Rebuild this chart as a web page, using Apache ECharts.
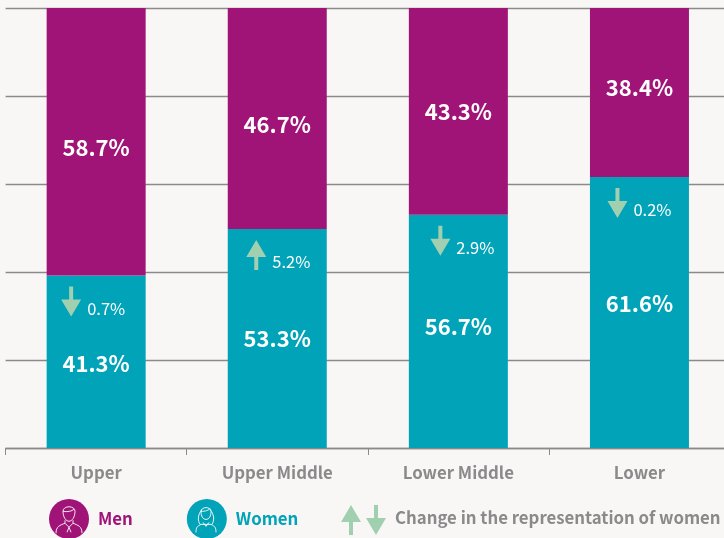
<!DOCTYPE html>
<html>
<head>
<meta charset="utf-8">
<style>
  html, body { margin: 0; padding: 0; background: #f8f7f5; }
  #chart { width: 724px; height: 538px; }
</style>
<script src="https://cdn.jsdelivr.net/npm/echarts@6/dist/echarts.min.js"></script>
</head>
<body>
<div id="chart"></div>
<script>
const categories = ["Upper", "Upper Middle", "Lower Middle", "Lower"];
// bar heights as drawn in the picture (they differ from the printed labels)
const womenHeights = [39.2, 49.8, 53.0, 61.6];
const menHeights = [60.8, 50.2, 47.0, 38.4];
const womenLabels = ["41.3%", "53.3%", "56.7%", "61.6%"];
const menLabels = ["58.7%", "46.7%", "43.3%", "38.4%"];
const changeLabels = ["0.7%", "5.2%", "2.9%", "0.2%"];
const changeDirections = ["down", "up", "down", "down"];

// hand placed offsets of the labels, in pixels
const womenLabelShift = [2, 0, -5, -9];
const menLabelShift = [6, 6, 0, -5];
const arrowShift = [-25, -21, -18, -22];

const MEN = "#a11477";
const WOMEN = "#00a3b7";
const ARROW = "#a0d0b0";
const GREY = "#8a8a8c";
const FONT = '"Noto Sans CJK SC", "Noto Sans", sans-serif';

const upPath = "M0 -15 L10 2 L2 2 L2 15 L-2 15 L-2 2 L-10 2 Z";
const downPath = "M0 15 L10 -2 L2 -2 L2 -15 L-2 -15 L-2 -2 L-10 -2 Z";

function arrowItem(x, y, dir) {
  return {
    type: "path",
    x: x,
    y: y,
    shape: { pathData: dir === "up" ? upPath : downPath, x: -10, y: -15, width: 20, height: 30 },
    style: { fill: ARROW }
  };
}

function renderChange(params, api) {
  const i = params.dataIndex;
  const top = api.coord([i, womenHeights[i]]);
  const x = top[0] + arrowShift[i];
  return {
    type: "group",
    children: [
      arrowItem(x, top[1] + 26, changeDirections[i]),
      {
        type: "text",
        x: x + 16,
        y: top[1] + 33,
        style: {
          text: changeLabels[i],
          fill: "#ffffff",
          font: "16.5px " + FONT,
          textAlign: "left",
          textVerticalAlign: "middle"
        }
      }
    ]
  };
}

function barLabel(value, text, shift) {
  return {
    value: value,
    label: { show: true, formatter: text, offset: [0, shift] }
  };
}

// white line drawing of a person on the legend circles
const manPath = "M-6 -9 C-6 -15 6 -15 6 -9 C6 -3 3 1 0 1 C-3 1 -6 -3 -6 -9 Z M-6 -9 C-2 -8 3 -9 5 -11 M-4 0 L-4 3 L0 7 L4 3 L4 0 M-4 3 C-9 5 -13 6 -13 13 M4 3 C9 5 13 6 13 13 M0 7 L-2 12 M0 7 L2 12";
const womanPath = "M-5 -8 C-5 -13 5 -13 5 -8 C5 -3 3 0 0 0 C-3 0 -5 -3 -5 -8 Z M-5 -8 C-1 -8 3 -9 4 -11 M-4 -10 C-9 -4 -8 2 -6 5 L6 5 C8 2 9 -4 4 -10 M-3 3 L0 7 L3 3 M-5 5 C-9 7 -10 8 -10 13 M5 5 C9 7 10 8 10 13";

function iconItem(pathData, x, y, w, h) {
  return {
    type: "path",
    x: x,
    y: y,
    shape: { pathData: pathData, x: -w / 2, y: -h / 2, width: w, height: h },
    style: { fill: "none", stroke: "#ffffff", lineWidth: 0.9 }
  };
}

function renderLegendMarks() {
  return {
    type: "group",
    children: [
      iconItem(manPath, 69, 520, 26, 28),
      iconItem(womanPath, 206, 520, 20, 27),
      arrowItem(351, 520, "up"),
      arrowItem(376, 520, "down")
    ]
  };
}

const chart = echarts.init(document.getElementById("chart"));

chart.setOption({
  backgroundColor: "#f8f7f5",
  animation: false,
  textStyle: { fontFamily: FONT },
  grid: { left: 5.6, width: 724.4, top: 8, height: 440, outerBoundsMode: "none" },
  legend: {
    left: 49,
    top: 499,
    padding: 0,
    itemWidth: 40,
    itemHeight: 40,
    itemGap: 54,
    icon: "circle",
    selectedMode: false,
    data: [
      { name: "Men", itemStyle: { color: MEN }, textStyle: { color: MEN } },
      { name: "Women", itemStyle: { color: WOMEN }, textStyle: { color: WOMEN } }
    ],
    textStyle: { fontFamily: FONT, fontSize: 16.8, fontWeight: "bold", padding: [0, 0, 0, 4] }
  },
  xAxis: {
    type: "category",
    data: categories,
    axisLine: { lineStyle: { color: GREY, width: 1.3 } },
    axisTick: { show: true, length: 7, lineStyle: { color: GREY, width: 1 } },
    axisLabel: { color: GREY, fontSize: 16.8, fontWeight: "bold", margin: 16, fontFamily: FONT }
  },
  yAxis: {
    type: "value",
    min: 0,
    max: 100,
    interval: 20,
    axisLine: { show: false },
    axisTick: { show: false },
    axisLabel: { show: false },
    splitLine: { lineStyle: { color: GREY, width: 1.3 } }
  },
  series: [
    {
      name: "Women",
      type: "bar",
      stack: "share",
      barWidth: 99,
      itemStyle: { color: WOMEN },
      label: { position: "inside", color: "#ffffff", fontSize: 22, fontWeight: "bold", fontFamily: FONT },
      data: womenHeights.map((v, i) => barLabel(v, womenLabels[i], womenLabelShift[i]))
    },
    {
      name: "Men",
      type: "bar",
      stack: "share",
      barWidth: 99,
      itemStyle: { color: MEN },
      label: { position: "inside", color: "#ffffff", fontSize: 22, fontWeight: "bold", fontFamily: FONT },
      data: menHeights.map((v, i) => barLabel(v, menLabels[i], menLabelShift[i]))
    },
    {
      name: "Change",
      type: "custom",
      renderItem: renderChange,
      data: categories.map((c, i) => [i, womenHeights[i]]),
      encode: { x: 0, y: 1 },
      z: 5
    },
    {
      name: "LegendMarks",
      type: "custom",
      coordinateSystem: "none",
      renderItem: renderLegendMarks,
      data: [0],
      z: 10
    }
  ],
  graphic: [
    { type: "text", x: 395, y: 518, style: { text: "Change in the representation of women", fill: GREY, font: "bold 16.8px " + FONT, textAlign: "left", textVerticalAlign: "middle" } }
  ]
});
</script>
</body>
</html>
